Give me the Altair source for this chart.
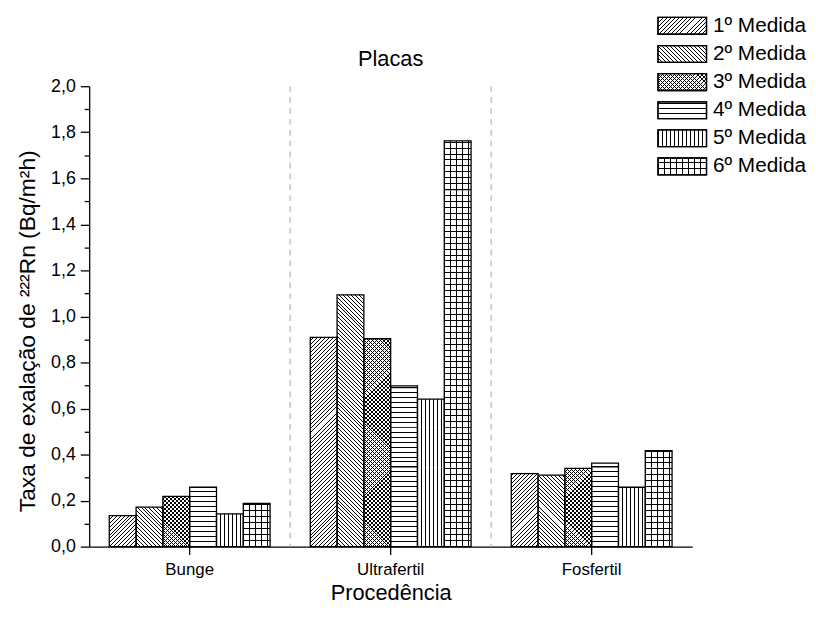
import altair as alt
import pandas as pd

# ---------------- data ----------------
categories = ["Bunge", "Ultrafertil", "Fosfertil"]
series = ["1º Medida", "2º Medida", "3º Medida", "4º Medida", "5º Medida", "6º Medida"]
bunge = [0.135, 0.172, 0.218, 0.258, 0.142, 0.188]
ultrafertil = [0.909, 1.094, 0.903, 0.698, 0.641, 1.763]
fosfertil = [0.317, 0.311, 0.340, 0.363, 0.258, 0.417]
y_ticks = [round(k * 0.1, 1) for k in range(0, 21)]

values_by_cat = {"Bunge": bunge, "Ultrafertil": ultrafertil, "Fosfertil": fosfertil}
rows = []
for c in categories:
    for i, s in enumerate(series):
        rows.append({"cat": c, "serie": s, "idx": i, "value": values_by_cat[c][i]})
df = pd.DataFrame(rows)
sep_df = pd.DataFrame({"cat": categories[1:]})

# ---------------- layout ----------------
W, H, YMAX = 609, 465, 2.0
PXU = H / YMAX                                   # pixels per data unit
PAD_IN, PAD_OUT = 0.2, 0.1
STEP = W / (len(categories) - PAD_IN + 2 * PAD_OUT)
BW = STEP * (1 - PAD_IN) / len(series)           # bar width (px)
SEG = 40.0                                       # hatch tile height (px)
SEGV = SEG / PXU
K = 128.0                                        # gradient span (px)

FONT = "Liberation Sans"
TR = "rgba(0,0,0,0)"


def stripe_stops(period, lw, fg, bg):
    out = []
    k = 0
    while k * period < K:
        a = k * period / K
        b = min((k * period + lw) / K, 1.0)
        c = min((k + 1) * period / K, 1.0)
        out += [{"offset": round(a, 6), "color": fg}, {"offset": round(b, 6), "color": fg},
                {"offset": round(b, 6), "color": bg}, {"offset": round(c, 6), "color": bg}]
        k += 1
    return out


P_DIAG, P_CROSS, P_H, P_V, P_GRID = 4, 4, 5, 4, 6
p_diag = alt.param(name="st_diag", value=stripe_stops(P_DIAG, 1, "black", "white"))
p_cross = alt.param(name="st_cross", value=stripe_stops(P_CROSS, 1, "black", "white"))
p_cross_t = alt.param(name="st_cross_t", value=stripe_stops(P_CROSS, 1, "black", TR))
p_h = alt.param(name="st_h", value=stripe_stops(P_H, 1, "black", "white"))
p_v = alt.param(name="st_v", value=stripe_stops(P_V, 1, "black", "white"))
p_grid = alt.param(name="st_grid", value=stripe_stops(P_GRID, 1, "black", "white"))
p_grid_t = alt.param(name="st_grid_t", value=stripe_stops(P_GRID, 1, "black", TR))


def gexpr(kind, w, h, zb, p, stops):
    w = f"({w})"
    h = f"({h})"
    zb = f"({zb})"
    den = f"({w}*{w}+{h}*{h})"
    if kind == "up":
        phi = f"(((-({h}+{zb})) % {p}) + {p}) % {p}"
        y1 = f"(-({phi})/{h})"
        return (f"{{gradient:'linear',x1:0,y1:{y1},x2:{K}*{w}/{den},"
                f"y2:{y1}+{K}*{h}/{den},stops:{stops}}}")
    if kind == "down":
        phi = f"(({zb} % {p}) + {p}) % {p}"
        y1 = f"(1+({phi})/{h})"
        return (f"{{gradient:'linear',x1:0,y1:{y1},x2:{K}*{w}/{den},"
                f"y2:{y1}-{K}*{h}/{den},stops:{stops}}}")
    if kind == "h":
        phi = f"(({zb} % {p}) + {p}) % {p}"
        y1 = f"(1+({phi})/{h})"
        return f"{{gradient:'linear',x1:0,y1:{y1},x2:0,y2:{y1}-{K}/{h},stops:{stops}}}"
    return f"{{gradient:'linear',x1:0,y1:0,x2:{K}/{w},y2:0,stops:{stops}}}"


base_kinds = [("up", P_DIAG, "st_diag"), ("down", P_DIAG, "st_diag"),
              ("up", P_CROSS, "st_cross"), ("h", P_H, "st_h"),
              ("v", P_V, "st_v"), ("h", P_GRID, "st_grid")]
over_kinds = {2: ("down", P_CROSS, "st_cross_t"), 5: ("v", P_GRID, "st_grid_t")}


def nested(kinds_map, w, h, zb, default="'transparent'"):
    expr = default
    for i in sorted(kinds_map.keys(), reverse=True):
        kd, p, st = kinds_map[i]
        expr = f"datum.idx == {i} ? {gexpr(kd, w, h, zb, p, st)} : ({expr})"
    return expr


base_expr = nested(dict(enumerate(base_kinds)), BW, "datum.hs", "datum.zb")
over_expr = nested(over_kinds, BW, "datum.hs", "datum.zb")

# legend symbols: 49 x 17 px boxes (path drawn in [-2,2] units)
LW_, LH_ = 49.0, 17.0
HALF = 2 * LH_ / LW_
SYM_PATH = f"M-2,-{HALF:.4f}H2V{HALF:.4f}H-2Z"
SYM_SIZE = (LW_ / 2) ** 2
legend_range_a = [{"expr": gexpr(kd, LW_, LH_, 0, p, st)} for kd, p, st in base_kinds]
legend_range_b = []
for i in range(len(series)):
    if i in over_kinds:
        kd, p, st = over_kinds[i]
        legend_range_b.append({"expr": gexpr(kd, LW_, LH_, 0, p, st)})
    else:
        legend_range_b.append("transparent")

# ---------------- encodings ----------------
x_scale = alt.Scale(domain=categories, paddingInner=PAD_IN, paddingOuter=PAD_OUT)
x_axis = alt.Axis(title="Procedência", labelAngle=0, labelAlign="center",
                  labelFont=FONT, labelFontSize=17,
                  labelColor="black", labelPadding=7, tickSize=8, tickColor="black",
                  tickWidth=1.3, domainColor="black", domainWidth=1.3,
                  titleFont=FONT, titleFontSize=22, titleFontWeight="normal",
                  titleColor="black", titlePadding=5, grid=False)
x_enc = alt.X("cat:N", sort=categories, scale=x_scale, axis=x_axis)
xoff_enc = alt.XOffset("serie:N", sort=series,
                       scale=alt.Scale(domain=series, paddingInner=0, paddingOuter=0))
major = "round(datum.value*10) % 2 == 0"
y_scale = alt.Scale(domain=[0, YMAX], nice=False, zero=True)
y_axis = alt.Axis(values=y_ticks,
                  labelExpr=f"{major} ? replace(format(datum.value, '.1f'), '.', ',') : ''",
                  tickSize={"condition": {"test": major, "value": 9}, "value": 5},
                  tickColor="black", tickWidth=1.3, domainColor="black", domainWidth=1.3,
                  labelFont=FONT, labelFontSize=18, labelColor="black", labelPadding=5,
                  title="Taxa de exalação de ²²²Rn (Bq/m²h)", titleFont=FONT,
                  titleFontSize=23, titleFontWeight="normal", titleColor="black",
                  titlePadding=11, titleY=247, grid=False)
y_val = alt.Y("value:Q", scale=y_scale, axis=y_axis)

seps = alt.Chart(sep_df).mark_rule(color="#c4c4c4", strokeDash=[6, 5], strokeWidth=1.5,
                                   xOffset=-PAD_IN * STEP / 2).encode(
    x=alt.X("cat:N", sort=categories, bandPosition=0, scale=x_scale, axis=x_axis)
)


def segmented(chart):
    return (chart
            .transform_calculate(nseg=f"ceil(datum.value/{SEGV})")
            .transform_calculate(segs="sequence(0, datum.nseg)")
            .transform_flatten(["segs"], as_=["k"])
            .transform_calculate(y0=f"datum.k*{SEGV}",
                                 y1=f"min((datum.k+1)*{SEGV}, datum.value)")
            .transform_calculate(hs=f"(datum.y1-datum.y0)*{PXU}", zb=f"datum.y0*{PXU}"))


base = segmented(alt.Chart(df)).transform_calculate(g=base_expr).mark_bar(
    strokeWidth=0).encode(
    x=x_enc, xOffset=xoff_enc,
    y=alt.Y("y0:Q", scale=y_scale, axis=y_axis), y2="y1:Q",
    fill=alt.Fill("g:N", scale=None, legend=None),
)

over = segmented(alt.Chart(df).transform_filter("datum.idx == 2 || datum.idx == 5")
                 ).transform_calculate(g2=over_expr).mark_bar(strokeWidth=0).encode(
    x=x_enc, xOffset=xoff_enc,
    y=alt.Y("y0:Q", scale=y_scale, axis=y_axis), y2="y1:Q",
    fill=alt.Fill("g2:N", scale=None, legend=None),
)

outline = alt.Chart(df).mark_bar(fill="transparent", stroke="black", strokeWidth=1.3).encode(
    x=x_enc, xOffset=xoff_enc, y=y_val,
)

legend_common = dict(orient="none", legendX=586, legendY=-74, title=None,
                     symbolType=SYM_PATH, symbolSize=SYM_SIZE, symbolStrokeColor="black",
                     symbolStrokeWidth=1.3, labelFont=FONT, labelFontSize=21,
                     labelOffset=18, rowPadding=3.4, symbolOpacity=1)

carrier_a = alt.Chart(df).mark_point(shape=SYM_PATH, filled=True, size=0, opacity=1).encode(
    x=x_enc, y=y_val,
    color=alt.Color("serie:N", sort=series,
                    scale=alt.Scale(domain=series, range=legend_range_a),
                    legend=alt.Legend(labelColor="black", **legend_common)),
)
carrier_b = alt.Chart(df).mark_point(shape=SYM_PATH, filled=True, size=0, opacity=1).encode(
    x=x_enc, y=y_val,
    color=alt.Color("serie2:N", sort=series,
                    scale=alt.Scale(domain=series, range=legend_range_b),
                    legend=alt.Legend(labelColor="transparent", **legend_common)),
).transform_calculate(serie2="datum.serie")

chart = alt.layer(seps, base, over, outline, carrier_a, carrier_b).add_params(
    p_diag, p_cross, p_cross_t, p_h, p_v, p_grid, p_grid_t
).resolve_scale(color="independent").resolve_legend(color="independent").properties(
    width=W, height=H,
    autosize=alt.AutoSizeParams(type="none"),
    padding={"left": 82, "top": 76, "right": 117, "bottom": 61},
    title=alt.Title("Placas", font=FONT, fontSize=22, fontWeight="normal", color="black",
                    offset=16, dy=75),
).configure_view(stroke=None)

chart.save("out.html", embed_options={"renderer": "svg", "actions": False})
